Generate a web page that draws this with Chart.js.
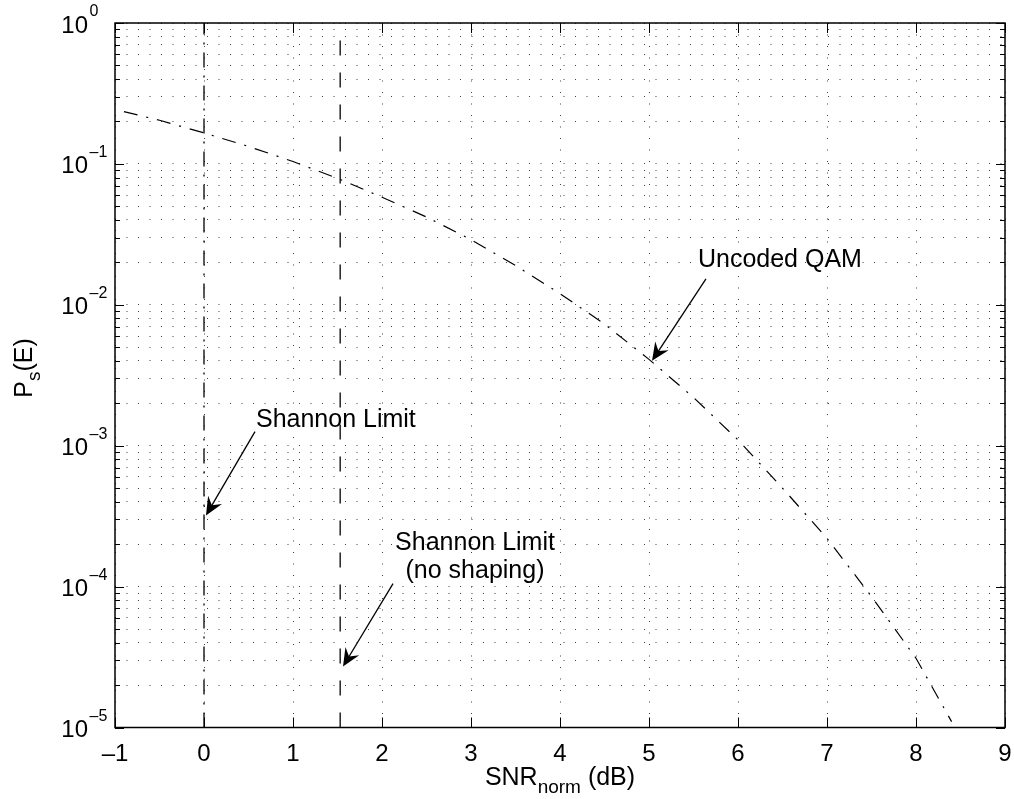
<!DOCTYPE html>
<html lang="en">
<head>
<meta charset="UTF-8">
<title>Uncoded QAM vs Shannon limit</title>
<style>
  html, body { margin: 0; padding: 0; background: #fff; }
  #wrap { width: 1014px; height: 799px; }
</style>
</head>
<body>
<div id="wrap"><canvas id="chart" width="1014" height="799"></canvas></div>
<script src="https://cdn.jsdelivr.net/npm/chart.js"></script>
<script>
// uncoded QAM curve
const snrDb = [-0.9, -0.5, 0, 0.5, 1, 1.5, 2, 2.5, 3, 3.5, 4, 4.5, 5, 5.5, 6, 6.5, 7, 7.5, 8, 8.4];
const psUncoded = [0.235, 0.204, 0.166, 0.133, 0.104, 0.079, 0.058, 0.042, 0.029, 0.019, 0.012, 0.0073, 0.0041, 0.0022, 0.0011, 5.0e-4, 2.2e-4, 8.5e-5, 3.1e-5, 1.1e-5];

// the two Shannon limit verticals
const shannonX = [0, 0];
const noShapingX = [1.53, 1.53];
const limitY = [1e-5, 1];

// axes
const xTicks = [-1, 0, 1, 2, 3, 4, 5, 6, 7, 8, 9];
const xTickLabels = ['\u20131', '0', '1', '2', '3', '4', '5', '6', '7', '8', '9'];
const yDecades = [1e-5, 1e-4, 1e-3, 1e-2, 1e-1, 1];
const yExponents = ['\u20135', '\u20134', '\u20133', '\u20132', '\u20131', '0'];

// text + arrows (data coords)
const noteLines = [['Shannon Limit'], ['Shannon Limit', '(no shaping)'], ['Uncoded QAM']];
const noteX = [0.584, 3.045, 5.55];
const noteY = [1.36e-3, 1.83e-4, 0.0186];
const noteAlign = ['left', 'center', 'left'];
const arrowFrom = [[0.573, 1.26e-3], [2.124, 1.05e-4], [5.64, 0.0153]];
const arrowTo = [[0.022, 3.2e-4], [1.562, 2.71e-5], [5.034, 0.0040]];

const FONT = "'Liberation Sans', Arial, Helvetica, sans-serif";

// every 1..9 x 10^k for the log grid
const yTickVals = [];
for (let k = -5; k < 0; k++) {
  for (let m = 1; m < 10; m++) yTickVals.push(m * Math.pow(10, k));
}
yTickVals.push(1);

const pairs = (xs, ys) => xs.map((x, i) => ({ x: x, y: ys[i] }));

function arrow(ctx, x0, y0, x1, y1) {
  const dx = x1 - x0, dy = y1 - y0;
  const len = Math.hypot(dx, dy);
  const ux = dx / len, uy = dy / len;
  const nx = -uy, ny = ux;
  const L = 18, W = 8;
  ctx.beginPath();
  ctx.moveTo(x0, y0);
  ctx.lineTo(x1 - ux * L * 0.6, y1 - uy * L * 0.6);
  ctx.stroke();
  ctx.beginPath();
  ctx.moveTo(x1, y1);
  ctx.lineTo(x1 - ux * L + nx * W, y1 - uy * L + ny * W);
  ctx.lineTo(x1 - ux * L * 0.65, y1 - uy * L * 0.65);
  ctx.lineTo(x1 - ux * L - nx * W, y1 - uy * L - ny * W);
  ctx.closePath();
  ctx.fill();
}

const decorations = {
  id: 'decorations',
  afterDraw(chart) {
    const ctx = chart.ctx;
    const a = chart.chartArea;
    const xs = chart.scales.x, ys = chart.scales.y;
    ctx.save();
    ctx.strokeStyle = '#000';
    ctx.fillStyle = '#000';
    ctx.setLineDash([]);

    // frame
    ctx.lineWidth = 1.5;
    ctx.strokeRect(a.left, a.top, a.right - a.left, a.bottom - a.top);

    // inward ticks
    ctx.lineWidth = 1;
    ctx.beginPath();
    xTicks.forEach(v => {
      const px = Math.round(xs.getPixelForValue(v)) + 0.5;
      ctx.moveTo(px, a.bottom); ctx.lineTo(px, a.bottom - 10);
      ctx.moveTo(px, a.top); ctx.lineTo(px, a.top + 10);
    });
    yTickVals.forEach(v => {
      const py = Math.round(ys.getPixelForValue(v)) + 0.5;
      const major = yDecades.includes(v);
      const l = major ? 9 : 5;
      ctx.moveTo(a.left, py); ctx.lineTo(a.left + l, py);
      ctx.moveTo(a.right, py); ctx.lineTo(a.right - l, py);
    });
    ctx.stroke();

    // x tick labels
    ctx.font = '24px ' + FONT;
    ctx.textAlign = 'center';
    ctx.textBaseline = 'alphabetic';
    xTicks.forEach((v, i) => {
      ctx.fillText(xTickLabels[i], xs.getPixelForValue(v), a.bottom + 33);
    });

    // y tick labels: 10 with a superscript exponent
    yDecades.forEach((v, i) => {
      const py = ys.getPixelForValue(v);
      ctx.font = '24px ' + FONT;
      ctx.textAlign = 'right';
      ctx.fillText('10', 88, py + 9.5);
      ctx.font = '16px ' + FONT;
      ctx.textAlign = 'left';
      ctx.fillText(yExponents[i], 89.5, py - 7);
    });

    // x title: SNR_norm (dB)
    const big = '25px ' + FONT, small = '19px ' + FONT;
    ctx.font = big;
    const w1 = ctx.measureText('SNR').width;
    const w3 = ctx.measureText(' (dB)').width;
    ctx.font = small;
    const w2 = ctx.measureText('norm').width;
    let tx = (a.left + a.right) / 2 - (w1 + w2 + w3) / 2;
    ctx.textAlign = 'left';
    ctx.font = big; ctx.fillText('SNR', tx, 785);
    ctx.font = small; ctx.fillText('norm', tx + w1, 793);
    ctx.font = big; ctx.fillText(' (dB)', tx + w1 + w2, 785);

    // y title: P_s(E)
    ctx.save();
    ctx.translate(32, 368);
    ctx.rotate(-Math.PI / 2);
    ctx.font = big;
    const p1 = ctx.measureText('P').width;
    const p3 = ctx.measureText('(E)').width;
    ctx.font = small;
    const p2 = ctx.measureText('s').width;
    let ty = -(p1 + p2 + p3) / 2;
    ctx.font = big; ctx.fillText('P', ty, 0);
    ctx.font = small; ctx.fillText('s', ty + p1, 8);
    ctx.font = big; ctx.fillText('(E)', ty + p1 + p2, 0);
    ctx.restore();

    // annotations
    ctx.font = '25px ' + FONT;
    noteLines.forEach((lines, i) => {
      ctx.textAlign = noteAlign[i];
      const px = xs.getPixelForValue(noteX[i]);
      const py = ys.getPixelForValue(noteY[i]);
      lines.forEach((t, j) => ctx.fillText(t, px, py + j * 28));
    });
    ctx.lineWidth = 1.3;
    arrowFrom.forEach((f, i) => {
      const t = arrowTo[i];
      arrow(ctx, xs.getPixelForValue(f[0]), ys.getPixelForValue(f[1]),
        xs.getPixelForValue(t[0]), ys.getPixelForValue(t[1]));
    });
    ctx.restore();
  }
};

const gridStyle = { color: 'rgba(0,0,0,0.75)', lineWidth: 1, drawTicks: false };

new Chart(document.getElementById('chart'), {
  type: 'line',
  data: {
    datasets: [
      { data: pairs(snrDb, psUncoded), borderColor: '#000', borderWidth: 1.2, borderDash: [14, 9, 2, 9], pointRadius: 0, fill: false, tension: 0 },
      { data: pairs(shannonX, limitY), borderColor: '#000', borderWidth: 1.3, borderDash: [15, 8, 2, 8], pointRadius: 0, fill: false },
      { data: pairs(noShapingX, limitY), borderColor: '#000', borderWidth: 1.3, borderDash: [15, 17], pointRadius: 0, fill: false }
    ]
  },
  options: {
    responsive: false,
    animation: false,
    layout: { padding: { top: 23, right: 9, left: 0, bottom: 0 } },
    plugins: { legend: { display: false }, tooltip: { enabled: false } },
    scales: {
      x: {
        type: 'linear', min: -1, max: 9,
        ticks: { display: false },
        grid: gridStyle,
        border: { display: false, dash: [1, 10.5] },
        afterBuildTicks: s => { s.ticks = xTicks.map(v => ({ value: v })); },
        afterFit: s => { s.height = 71.5; }
      },
      y: {
        type: 'logarithmic', min: 1e-5, max: 1,
        ticks: { display: false },
        grid: gridStyle,
        border: { display: false, dash: [1, 10.5] },
        afterBuildTicks: s => { s.ticks = yTickVals.map(v => ({ value: v })); },
        afterFit: s => { s.width = 115; }
      }
    }
  },
  plugins: [decorations]
});
</script>
</body>
</html>
